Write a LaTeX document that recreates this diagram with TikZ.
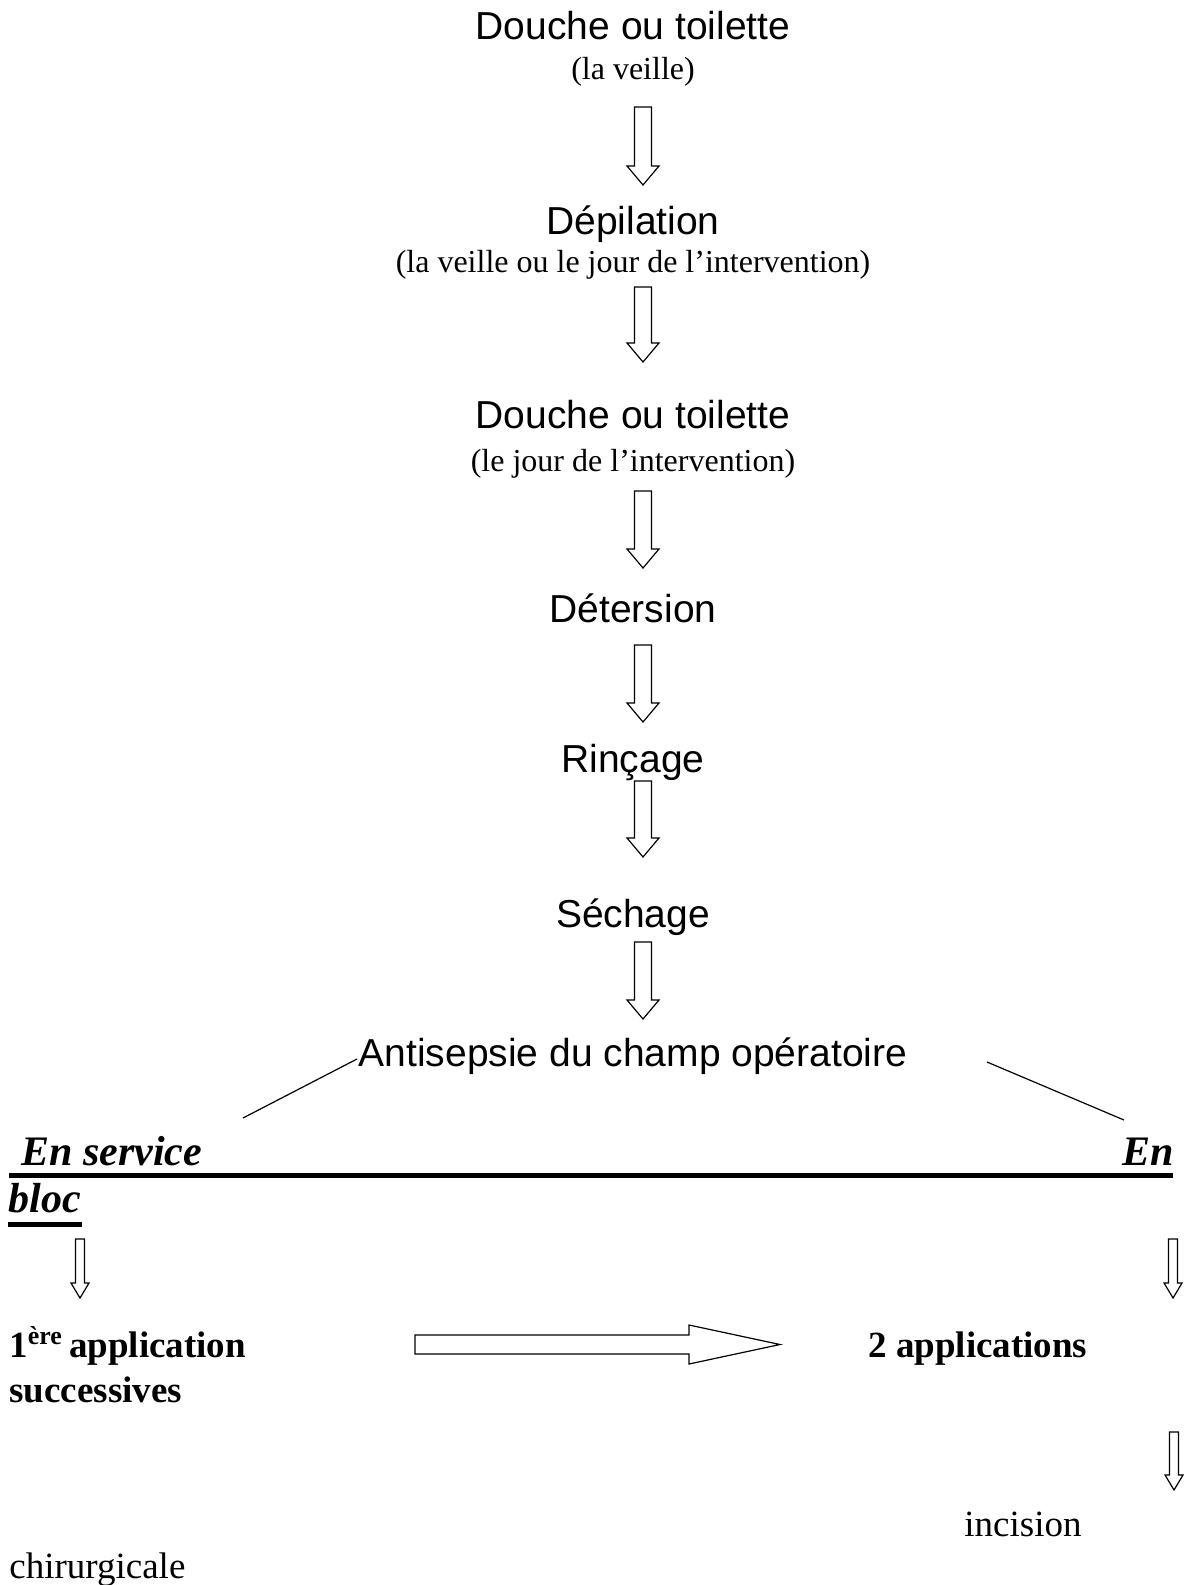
\documentclass[tikz,border=0pt]{standalone}
\usepackage{fontspec}
\setmainfont{Liberation Serif}
\newfontfamily\gothic{Liberation Sans}
\usetikzlibrary{calc}
\tikzset{
  head/.style={font=\gothic\fontsize{19.5}{23}\selectfont, inner sep=0pt, anchor=base},
  note/.style={font=\fontsize{16}{19}\selectfont, inner sep=0pt, anchor=base},
  body/.style={font=\fontsize{18.5}{22}\selectfont, inner sep=0pt, anchor=base west},
  bodyb/.style={font=\bfseries\fontsize{18.5}{22}\selectfont, inner sep=0pt, anchor=base west},
  side/.style={font=\bfseries\itshape\fontsize{21}{25}\selectfont, inner sep=0pt, anchor=base west},
  hollow/.style={draw=black, line width=0.6pt, fill=white, line join=miter},
  thinline/.style={line width=0.6pt},
  rule/.style={line width=2.5pt},
}
% vertical hollow block arrow: start, end, shaft half width, head half width, head length
\newcommand\vblock[5]{\draw[hollow] ($(#1)+(-#3,0)$) -- ($(#1)+(#3,0)$) -- ($(#2)+(#3,-#5)$) -- ($(#2)+(#4,-#5)$) -- (#2) -- ($(#2)+(-#4,-#5)$) -- ($(#2)+(-#3,-#5)$) -- cycle;}
% horizontal hollow block arrow
\newcommand\hblock[5]{\draw[hollow] ($(#1)+(0,-#3)$) -- ($(#2)+(-#5,-#3)$) -- ($(#2)+(-#5,-#4)$) -- (#2) -- ($(#2)+(-#5,#4)$) -- ($(#2)+(-#5,#3)$) -- ($(#1)+(0,#3)$) -- cycle;}
\begin{document}
\begin{tikzpicture}[x=0.5pt,y=-0.5pt]
\useasboundingbox (0,0) rectangle (1191,1585);
% main column
\node[head] (t1) at (633,39) {Douche ou toilette};
\node[note] (t1n) at (633,79) {(la veille)};
\node[head] (t2) at (633,234) {Dépilation};
\node[note] (t2n) at (633,272) {(la veille ou le jour de l’intervention)};
\node[head] (t3) at (633,428) {Douche ou toilette};
\node[note] (t3n) at (633,471) {(le jour de l’intervention)};
\node[head] (t4) at (633,622) {Détersion};
\node[head] (t5) at (633,772) {Rinçage};
\node[head] (t6) at (633,927) {Séchage};
\node[head] (t7) at (633,1066) {Antisepsie du champ opératoire};
% arrow ends
\coordinate (a1s) at (643,107);  \coordinate (a1e) at (643,185);
\coordinate (a2s) at (643,287);  \coordinate (a2e) at (643,362);
\coordinate (a3s) at (643,491);  \coordinate (a3e) at (643,568);
\coordinate (a4s) at (643,645);  \coordinate (a4e) at (643,722);
\coordinate (a5s) at (643,781);  \coordinate (a5e) at (643,857);
\coordinate (a6s) at (643,942);  \coordinate (a6e) at (643,1019);
\vblock{a1s}{a1e}{8.5}{16}{19}
\vblock{a2s}{a2e}{8.5}{16}{19}
\vblock{a3s}{a3e}{8.5}{16}{19}
\vblock{a4s}{a4e}{8.5}{16}{19}
\vblock{a5s}{a5e}{8.5}{16}{19}
\vblock{a6s}{a6e}{8.5}{16}{19}
% branches
\coordinate (bl1) at (357,1059); \coordinate (bl2) at (243,1118);
\coordinate (br1) at (987,1062); \coordinate (br2) at (1124,1120);
\draw[thinline] (bl1) -- (bl2);
\draw[thinline] (br1) -- (br2);
% side headings
\node[side] (svc) at (21,1165) {En service};
\node[side] (en) at (1122,1165) {En};
\node[side] (bloc) at (8,1212) {bloc};
\coordinate (u1a) at (9,1175.5); \coordinate (u1b) at (1173,1175.5);
\coordinate (u2a) at (8,1224.5); \coordinate (u2b) at (82,1224.5);
\draw[rule] (u1a) -- (u1b);
\draw[rule] (u2a) -- (u2b);
% lower part
\coordinate (la1) at (80,1239); \coordinate (la2) at (80,1298);
\coordinate (ra1) at (1173,1239); \coordinate (ra2) at (1173,1298);
\coordinate (rb1) at (1174,1432); \coordinate (rb2) at (1174,1490);
\vblock{la1}{la2}{4.5}{9}{15}
\vblock{ra1}{ra2}{4.5}{9}{15}
\vblock{rb1}{rb2}{4.5}{9}{15}
\node[bodyb] (app1) at (9,1357) {1\textsuperscript{ère}\,application};
\node[bodyb] (app2) at (868,1357) {2 applications};
\node[bodyb] (succ) at (9,1402) {successives};
\node[body] (inc) at (964,1536) {incision};
\node[body] (chir) at (9,1578) {chirurgicale};
\coordinate (h1) at (415,1344.5); \coordinate (h2) at (780,1344.5);
\hblock{h1}{h2}{9.5}{19.5}{91}
\end{tikzpicture}
\end{document}
